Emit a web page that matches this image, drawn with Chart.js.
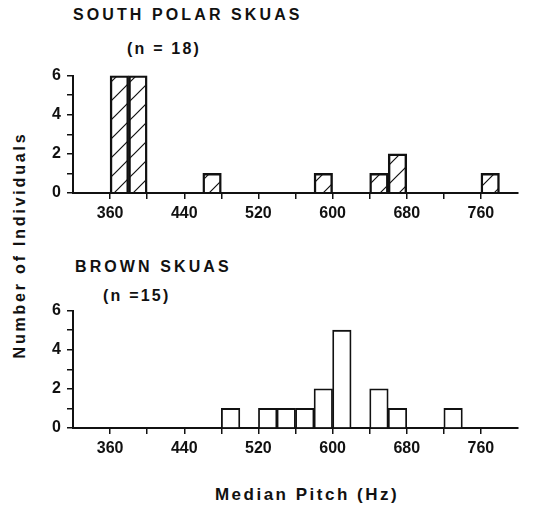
<!DOCTYPE html>
<html lang="en">
<head>
<meta charset="UTF-8">
<title>Median pitch of skua calls</title>
<script src="https://cdn.jsdelivr.net/npm/chart.js"></script>
<style>
  body { margin: 0; background: #fff; }
  #wrap { position: relative; width: 550px; height: 510px; font-family: "Liberation Sans", Arial, sans-serif; font-weight: bold; color: #111; }
  .txt { position: absolute; white-space: nowrap; }
  .title { font-size: 16px; letter-spacing: 3.1px; }
  .n { font-size: 16px; letter-spacing: 2.2px; }
  .box { position: absolute; left: 0; width: 550px; height: 170px; }
  #ylab { font-size: 16px; letter-spacing: 2.8px; left: 20px; top: 245px; transform: translate(-50%, -50%) rotate(-90deg); }
  #xlab { font-size: 17px; letter-spacing: 2.5px; left: 307px; top: 495px; transform: translate(-50%, -50%); }
</style>
</head>
<body>
<div id="wrap">
  <div class="txt title" style="left:73px; top:6px;">SOUTH POLAR SKUAS</div>
  <div class="txt n" style="left:127px; top:40px;">(n = 18)</div>
  <div class="txt title" style="left:75px; top:258px;">BROWN SKUAS</div>
  <div class="txt n" style="left:103px; top:287px;">(n =15)</div>
  <div id="ylab" class="txt">Number of Individuals</div>
  <div id="xlab" class="txt">Median Pitch (Hz)</div>
  <div class="box" style="top:60px;"><canvas id="southChart"></canvas></div>
  <div class="box" style="top:295px;"><canvas id="brownChart"></canvas></div>
</div>

<script>
// histogram bins (lower edge, Hz) and counts per bin
const binStarts = [320, 340, 360, 380, 400, 420, 440, 460, 480, 500, 520, 540,
                   560, 580, 600, 620, 640, 660, 680, 700, 720, 740, 760, 780];
const binWidth = 20;
const southPolarCounts = [0, 0, 6, 6, 0, 0, 0, 1, 0, 0, 0, 0, 0, 1, 0, 0, 1, 2, 0, 0, 0, 0, 1, 0];
const brownCounts      = [0, 0, 0, 0, 0, 0, 0, 0, 1, 0, 1, 1, 1, 2, 5, 0, 2, 1, 0, 0, 1, 0, 0, 0];
const xLabels = [360, 440, 520, 600, 680, 760];
const yLabels = [0, 2, 4, 6];

// diagonal hatching for the south polar bars
function makeHatch() {
    const s = 19;
    const c = document.createElement('canvas');
    c.width = s; c.height = s;
    const g = c.getContext('2d');
    g.strokeStyle = '#111';
    g.lineWidth = 1.2;
    g.beginPath();
    g.moveTo(0, s); g.lineTo(s, 0);
    g.moveTo(-2, 2); g.lineTo(2, -2);
    g.moveTo(s - 2, s + 2); g.lineTo(s + 2, s - 2);
    g.stroke();
    return g.createPattern(c, 'repeat');
}

function toPoints(counts) {
    return binStarts.map((b, i) => ({ x: b + binWidth / 2, y: counts[i] }));
}

const tickFont = { family: '"Liberation Sans", Arial, sans-serif', size: 16, weight: 'bold' };

function makeChart(id, counts, fill) {
    const ctx = document.getElementById(id).getContext('2d');
    return new Chart(ctx, {
        type: 'bar',
        data: {
            datasets: [{
                data: toPoints(counts),
                backgroundColor: fill,
                borderColor: c => c.raw && c.raw.y > 0 ? '#111' : 'rgba(0,0,0,0)',
                borderWidth: 1.8,
                barPercentage: 1,
                categoryPercentage: 1
            }]
        },
        options: {
            responsive: true,
            maintainAspectRatio: false,
            animation: false,
            layout: { padding: { top: 15, right: 32, left: 0, bottom: 0 } },
            plugins: { legend: { display: false }, tooltip: { enabled: false } },
            scales: {
                x: {
                    type: 'linear',
                    offset: false,
                    min: 320,
                    max: 800,
                    afterFit: s => { s.height = 37; },
                    ticks: {
                        stepSize: 40,
                        autoSkip: false,
                        maxRotation: 0,
                        color: '#111',
                        padding: 5,
                        font: tickFont,
                        callback: v => xLabels.includes(v) ? v : ''
                    },
                    grid: {
                        offset: false,
                        drawOnChartArea: false,
                        tickLength: 6,
                        lineWidth: 1.5,
                        color: c => (c.tick && (c.tick.value === 320 || c.tick.value === 800)) ? 'rgba(0,0,0,0)' : '#111'
                    },
                    border: { color: '#111', width: 2 }
                },
                y: {
                    min: 0,
                    max: 6,
                    afterFit: s => { s.width = 73; },
                    ticks: {
                        stepSize: 1,
                        autoSkip: false,
                        color: '#111',
                        padding: 6,
                        font: tickFont,
                        callback: v => yLabels.includes(v) ? v : ''
                    },
                    grid: { drawOnChartArea: false, tickLength: 6, lineWidth: 1.5, color: '#111' },
                    border: { color: '#111', width: 2 }
                }
            }
        }
    });
}

makeChart('southChart', southPolarCounts, makeHatch());
makeChart('brownChart', brownCounts, '#fff');
</script>
</body>
</html>
